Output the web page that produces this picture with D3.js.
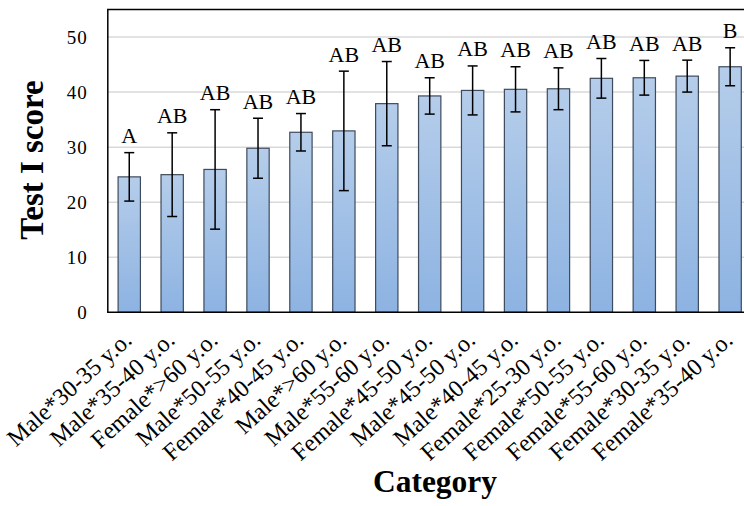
<!DOCTYPE html>
<html>
<head>
<meta charset="utf-8">
<script src="https://cdn.jsdelivr.net/npm/d3@7"></script>
<style>
  html, body { margin: 0; padding: 0; background: #fff; }
  svg text { font-family: "Liberation Serif", "Times New Roman", serif; fill: #000; }
</style>
</head>
<body>
<div id="viz"></div>
<script>
// chart data
const categories = ["Male*30-35 y.o.", "Male*35-40 y.o.", "Female*>60 y.o.", "Male*50-55 y.o.",
  "Female*40-45 y.o.", "Male*>60 y.o.", "Male*55-60 y.o.", "Female*45-50 y.o.", "Male*45-50 y.o.",
  "Male*40-45 y.o.", "Female*25-30 y.o.", "Female*50-55 y.o.", "Female*55-60 y.o.",
  "Female*30-35 y.o.", "Female*35-40 y.o."];
const means = [24.6, 25.0, 25.95, 29.8, 32.7, 32.95, 37.9, 39.3, 40.3, 40.5, 40.6, 42.5, 42.6, 42.9, 44.6];
const errors = [4.4, 7.6, 10.85, 5.45, 3.4, 10.85, 7.65, 3.3, 4.45, 4.1, 3.8, 3.6, 3.15, 2.9, 3.45];
const groups = ["A", "AB", "AB", "AB", "AB", "AB", "AB", "AB", "AB", "AB", "AB", "AB", "AB", "AB", "B"];
const yTicks = [0, 10, 20, 30, 40, 50];

const W = 744, H = 506;
// plot area (the right side of the original chart is cut off by the picture edge)
const plot = {left: 107.8, top: 9.5, right: 751.6, bottom: 312.3};

const svg = d3.select("#viz").append("svg")
  .attr("width", W)
  .attr("height", H);

// bar gradient: lighter at top, darker at bottom
const grad = svg.append("defs").append("linearGradient")
  .attr("id", "barGrad")
  .attr("x1", 0).attr("y1", 0).attr("x2", 0).attr("y2", 1);
grad.append("stop").attr("offset", "0%").attr("stop-color", "#b5cdea");
grad.append("stop").attr("offset", "100%").attr("stop-color", "#8db3e2");

const rows = categories.map((c, i) => ({cat: c, mean: means[i], err: errors[i], grp: groups[i]}));

const x = d3.scaleBand()
  .domain(categories)
  .range([plot.left, plot.right])
  .paddingInner(0.48)
  .paddingOuter(0.24);

const y = d3.scaleLinear()
  .domain([0, 55])
  .range([plot.bottom, plot.top]);

// gridlines
svg.append("g")
  .selectAll("line")
  .data(yTicks.filter(t => t > 0))
  .join("line")
    .attr("x1", plot.left).attr("x2", plot.right)
    .attr("y1", d => y(d)).attr("y2", d => y(d))
    .attr("stroke", "#d9d9d9")
    .attr("stroke-width", 1.5);

// y axis tick labels
const yAxis = d3.axisLeft(y).tickValues(yTicks).tickSize(0).tickPadding(20);
const yAxisG = svg.append("g")
  .attr("transform", "translate(" + plot.left + ",0)")
  .attr("font-family", null)
  .call(yAxis);
yAxisG.select(".domain").remove();
yAxisG.selectAll("text")
  .style("font-family", "'Liberation Serif', serif")
  .style("font-size", "19px")
  .style("letter-spacing", "1px")
  .attr("fill", "#000");

// bars
svg.append("g")
  .selectAll("rect")
  .data(rows)
  .join("rect")
    .attr("x", d => x(d.cat))
    .attr("y", d => y(d.mean))
    .attr("width", x.bandwidth())
    .attr("height", d => y(0) - y(d.mean))
    .attr("fill", "url(#barGrad)")
    .attr("stroke", "#3d4b5c")
    .attr("stroke-width", 1.2);

// error bars
const eb = svg.append("g")
  .attr("stroke", "#000")
  .attr("stroke-width", 1.5);
rows.forEach(d => {
  const cx = x(d.cat) + x.bandwidth() / 2;
  const capW = 5;
  eb.append("line")
    .attr("x1", cx).attr("x2", cx)
    .attr("y1", y(d.mean + d.err)).attr("y2", y(d.mean - d.err));
  eb.append("line")
    .attr("x1", cx - capW).attr("x2", cx + capW)
    .attr("y1", y(d.mean + d.err)).attr("y2", y(d.mean + d.err));
  eb.append("line")
    .attr("x1", cx - capW).attr("x2", cx + capW)
    .attr("y1", y(d.mean - d.err)).attr("y2", y(d.mean - d.err));
});

// group letters above the error bars
svg.append("g")
  .selectAll("text")
  .data(rows)
  .join("text")
    .attr("x", d => x(d.cat) + x.bandwidth() / 2)
    .attr("y", d => y(d.mean + d.err) - 9.5)
    .attr("text-anchor", "middle")
    .style("font-size", "22px")
    .text(d => d.grp);

// frame: left, top, bottom (right edge falls outside the picture)
svg.append("path")
  .attr("d", "M" + (plot.right + 20) + "," + plot.top + "H" + plot.left + "V" + plot.bottom + "H" + (plot.right + 20))
  .attr("fill", "none")
  .attr("stroke", "#000")
  .attr("stroke-width", 1.5);

// rotated category labels
svg.append("g")
  .selectAll("text")
  .data(rows)
  .join("text")
    .attr("transform", d => "translate(" + (x(d.cat) + x.bandwidth() / 2 + 4) + ",342) rotate(-42)")
    .attr("text-anchor", "end")
    .style("font-size", "24px")
    .text(d => d.cat);

// axis titles
svg.append("text")
  .attr("transform", "translate(43,160) rotate(-90)")
  .attr("text-anchor", "middle")
  .style("font-size", "33px")
  .style("font-weight", "bold")
  .text("Test I score");

svg.append("text")
  .attr("x", 435)
  .attr("y", 492)
  .attr("text-anchor", "middle")
  .style("font-size", "31.5px")
  .style("font-weight", "bold")
  .text("Category");
</script>
</body>
</html>
